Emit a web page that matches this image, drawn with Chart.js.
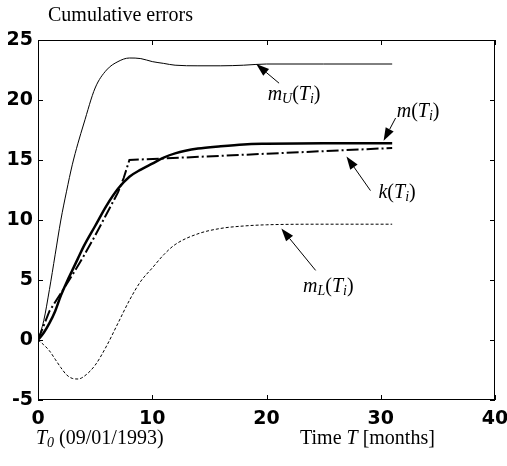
<!DOCTYPE html>
<html>
<head>
<meta charset="utf-8">
<script src="https://cdn.jsdelivr.net/npm/chart.js@4/dist/chart.umd.min.js"></script>
<style>
  html, body { margin: 0; padding: 0; background: #fff; }
  canvas { display: block; }
</style>
</head>
<body>
<canvas id="chart" width="507" height="466"></canvas>
<script>
// 時間軸 (months)
const months = [0, 0.5, 1, 1.5, 2, 2.5, 3, 3.5, 4, 5, 6, 7, 8, 9, 10, 11, 12, 14, 16, 18, 20, 25, 31];
// 上限 m_U
const mUpper = [0, 1.6, 4.2, 7.1, 10.0, 12.4, 14.6, 16.4, 18.0, 21.0, 22.5, 23.2, 23.5, 23.45, 23.2, 23.05, 22.9, 22.85, 22.85, 22.9, 23.0, 23.0, 23.0];
// 平均 m
const mMean = [0, 0.6, 1.4, 2.4, 3.7, 4.8, 5.8, 6.8, 7.8, 9.5, 11.2, 12.6, 13.6, 14.2, 14.7, 15.2, 15.55, 15.95, 16.15, 16.3, 16.35, 16.4, 16.4];
// 下限 m_L
const mLower = [0, -0.4, -0.9, -1.6, -2.3, -2.9, -3.2, -3.25, -3.05, -2.1, -0.5, 1.4, 3.3, 4.9, 6.0, 7.1, 7.95, 8.85, 9.3, 9.5, 9.6, 9.65, 9.65];
// k (折れ線)
const kMonths = [0, 1, 2, 3, 4, 5, 6, 7, 7.5, 8, 31];
const kValues = [0, 2.4, 3.9, 5.4, 7.0, 8.7, 10.5, 12.3, 13.5, 15.0, 16.0];
// 軸の目盛り
const xTicks = [0, 10, 20, 30, 40];
const yTicks = [-5, 0, 5, 10, 15, 20, 25];

const toPts = (xs, ys) => xs.map((v, i) => ({ x: v, y: ys[i] }));

const serif = "'Liberation Serif', 'Times New Roman', serif";
const FS = 20;

// 添字付きテキスト描画
function drawRich(ctx, px, py, parts) {
    let cx = px;
    parts.forEach(([txt, style, size, dy]) => {
        ctx.font = `${style} ${size}px ${serif}`;
        ctx.fillText(txt, cx, py + (dy || 0));
        cx += ctx.measureText(txt).width;
    });
}

function arrow(ctx, x1, y1, x2, y2) {
    const ang = Math.atan2(y2 - y1, x2 - x1);
    const len = 13, hw = 4.5;
    const bx = x2 - len * Math.cos(ang), by = y2 - len * Math.sin(ang);
    ctx.beginPath();
    ctx.moveTo(x1, y1);
    ctx.lineTo(bx, by);
    ctx.lineWidth = 1;
    ctx.stroke();
    ctx.beginPath();
    ctx.moveTo(x2, y2);
    ctx.lineTo(bx + hw * Math.sin(ang), by - hw * Math.cos(ang));
    ctx.lineTo(bx - hw * Math.sin(ang), by + hw * Math.cos(ang));
    ctx.closePath();
    ctx.fill();
}

const sub = (s) => [s, 'italic', 14, 3];
const it = (s) => [s, 'italic', FS, 0];
const rm = (s) => [s, 'normal', FS, 0];

// 注釈: ラベル位置と矢印 (データ座標)
const notes = [
    { at: [20.1, 20.0], tail: [21.1, 21.4], head: [19.1, 23.0], parts: [it('m'), sub('U'), rm('('), it('T'), sub('i'), rm(')')] },
    { at: [31.4, 18.6], tail: [31.3, 18.5], head: [30.25, 16.6], parts: [it('m'), rm('('), it('T'), sub('i'), rm(')')] },
    { at: [29.8, 11.8], tail: [29.1, 12.45], head: [27.0, 15.3], parts: [it('k'), rm('('), it('T'), sub('i'), rm(')')] },
    { at: [23.2, 3.96], tail: [24.3, 5.8], head: [21.3, 9.3], parts: [it('m'), sub('L'), rm('('), it('T'), sub('i'), rm(')')] }
];

const frame = {
    id: 'frame',
    afterDraw(chart) {
        const { ctx, chartArea: a, scales: { x, y } } = chart;
        ctx.save();
        ctx.strokeStyle = '#000';
        ctx.fillStyle = '#000';
        ctx.lineWidth = 1;
        ctx.strokeRect(Math.round(a.left) + 0.5, Math.round(a.top) + 0.5,
            Math.round(a.right - a.left) - 1, Math.round(a.bottom - a.top) - 1);
        // 内向きの目盛り
        ctx.beginPath();
        x.ticks.forEach(t => {
            const p = Math.round(x.getPixelForValue(t.value)) + 0.5;
            ctx.moveTo(p, a.bottom); ctx.lineTo(p, a.bottom - 5);
            ctx.moveTo(p, a.top); ctx.lineTo(p, a.top + 5);
        });
        y.ticks.forEach(t => {
            const p = Math.round(y.getPixelForValue(t.value)) + 0.5;
            ctx.moveTo(a.left, p); ctx.lineTo(a.left + 5, p);
            ctx.moveTo(a.right, p); ctx.lineTo(a.right - 5, p);
        });
        ctx.stroke();

        // タイトルと軸ラベル
        ctx.textBaseline = 'alphabetic';
        ctx.textAlign = 'left';
        drawRich(ctx, 48, 21, [rm('Cumulative errors')]);
        drawRich(ctx, 36, 444, [it('T'), ['0', 'italic', 14, 3], rm(' (09/01/1993)')]);
        drawRich(ctx, 300, 444, [rm('Time '), it('T'), rm(' [months]')]);

        // 注釈
        notes.forEach(n => {
            arrow(ctx, x.getPixelForValue(n.tail[0]), y.getPixelForValue(n.tail[1]),
                x.getPixelForValue(n.head[0]), y.getPixelForValue(n.head[1]));
            drawRich(ctx, x.getPixelForValue(n.at[0]), y.getPixelForValue(n.at[1]), n.parts);
        });
        ctx.restore();
    }
};

const tickFont = { family: "'DejaVu Sans', sans-serif", size: 19, weight: 'bold' };

new Chart(document.getElementById('chart').getContext('2d'), {
    type: 'scatter',
    data: {
        datasets: [
            { label: 'mU', data: toPts(months, mUpper), borderColor: '#000', borderWidth: 1, cubicInterpolationMode: 'monotone' },
            { label: 'm', data: toPts(months, mMean), borderColor: '#000', borderWidth: 2.5, cubicInterpolationMode: 'monotone' },
            { label: 'k', data: toPts(kMonths, kValues), borderColor: '#000', borderWidth: 2, borderDash: [12, 3, 2, 3] },
            { label: 'mL', data: toPts(months, mLower), borderColor: '#000', borderWidth: 1, borderDash: [3, 2], cubicInterpolationMode: 'monotone' }
        ].map(d => Object.assign(d, { showLine: true, pointRadius: 0, fill: false }))
    },
    options: {
        responsive: false,
        animation: false,
        layout: { padding: { top: 40, right: 12, left: 0, bottom: 0 } },
        plugins: { legend: { display: false }, tooltip: { enabled: false } },
        scales: {
            x: {
                type: 'linear', min: 0, max: 40,
                afterBuildTicks: s => { s.ticks = xTicks.map(v => ({ value: v })); },
                afterFit: s => { s.height = 66; s.paddingLeft = 0; s.paddingRight = 0; },
                grid: { display: false, drawTicks: false },
                border: { display: false },
                ticks: { color: '#000', font: tickFont, padding: 8 }
            },
            y: {
                type: 'linear', min: -5, max: 25,
                afterBuildTicks: s => { s.ticks = yTicks.map(v => ({ value: v })); },
                afterFit: s => { s.width = 38; s.paddingTop = 0; s.paddingBottom = 0; },
                grid: { display: false, drawTicks: false },
                border: { display: false },
                ticks: { color: '#000', font: tickFont, padding: 5 }
            }
        }
    },
    plugins: [frame]
});
</script>
</body>
</html>
